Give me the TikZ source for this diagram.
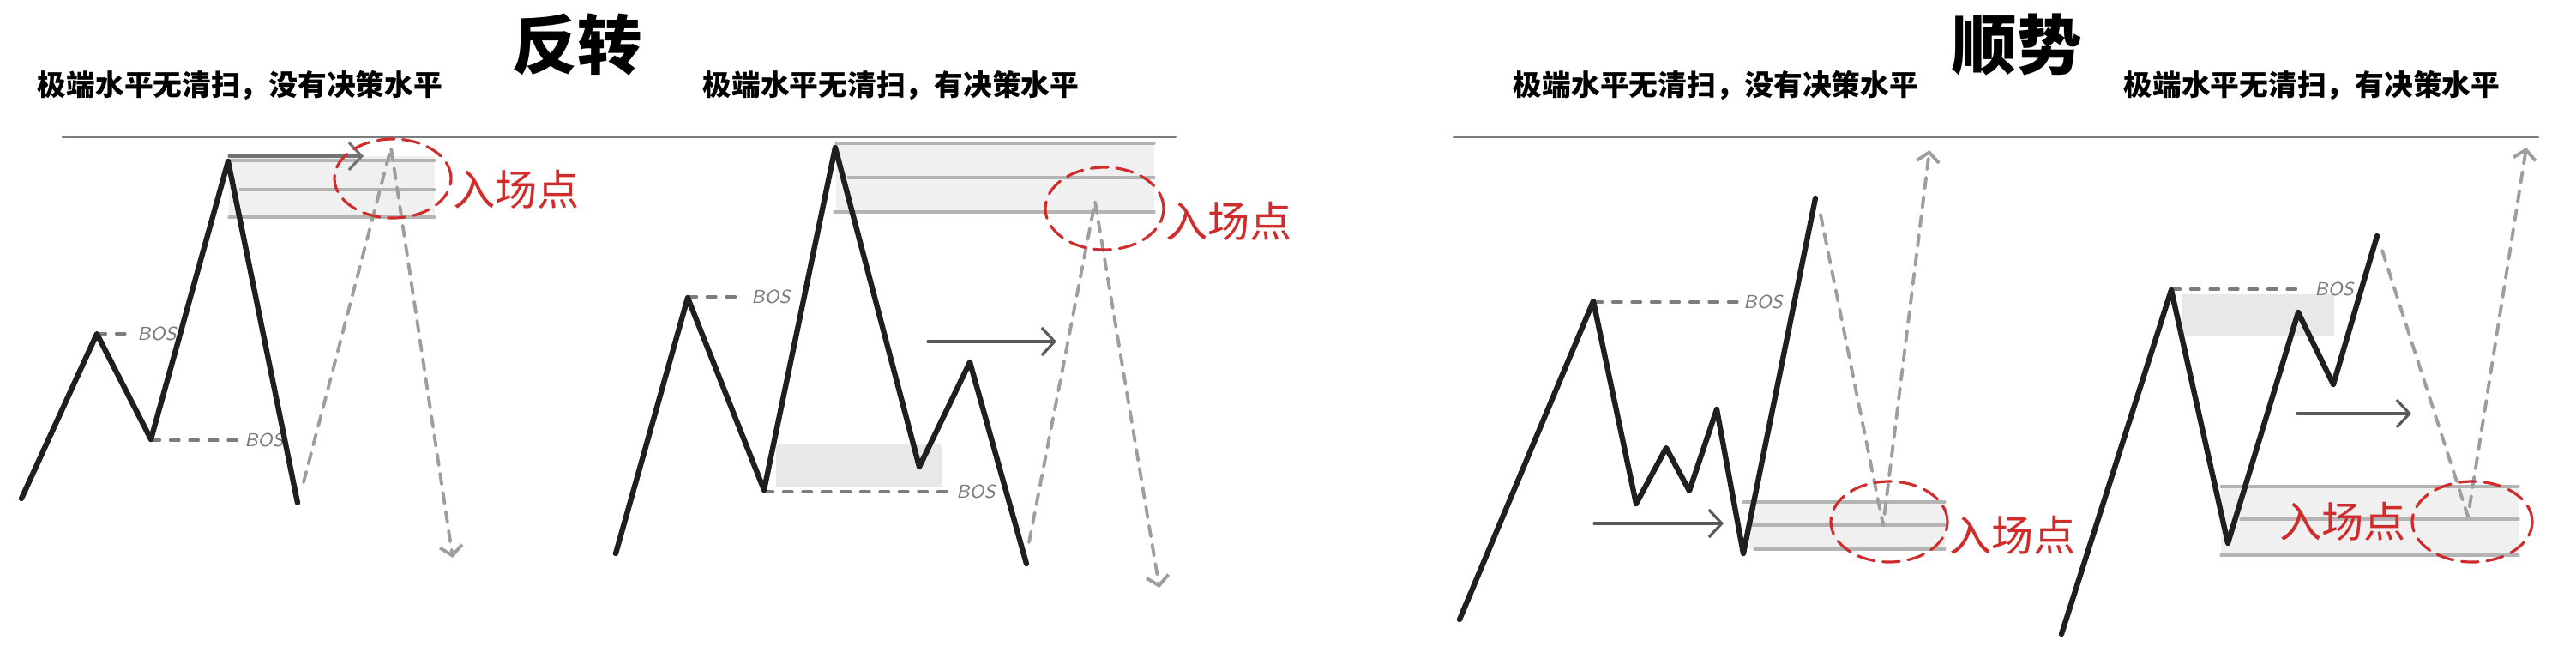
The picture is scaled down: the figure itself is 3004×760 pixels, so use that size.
\documentclass[tikz,border=0pt]{standalone}
\usepackage{fontspec}
\usetikzlibrary{arrows.meta, positioning, shapes.geometric}
\newfontfamily\cjk{Noto Sans CJK SC}
\definecolor{cred}{HTML}{D02C2C}
\definecolor{czone}{HTML}{F0F0F0}
\definecolor{cbox}{HTML}{E8E8E8}
\definecolor{clevel}{HTML}{B4B4B4}
\definecolor{cproj}{HTML}{9E9E9E}
\definecolor{cgrey}{HTML}{7C7C7C}
\tikzset{
  every picture/.style={line join=round, line cap=round},
  price/.style={draw=black!88, line width=1.8pt},
  proj/.style={draw=cproj, line width=1.1pt, dash pattern=on 3.6pt off 2.8pt, -{Straight Barb[length=1.1mm, width=2.6mm]}},
  bosline/.style={draw=cgrey, line width=0.9pt, dash pattern=on 3pt off 3.4pt},
  bos/.style={font=\sffamily\itshape\fontsize{6.2}{7}\selectfont, text=cgrey, inner sep=0pt},
  level/.style={draw=clevel, line width=0.9pt},
  hint/.style={draw=black!65, line width=0.9pt, -{Straight Barb[length=1.5mm, width=3.2mm]}},
  entry/.style={ellipse, draw=cred, line width=0.9pt, dash pattern=on 5.6pt off 2.8pt, inner sep=0pt},
  entrytext/.style={font=\cjk\fontsize{14}{16}\selectfont, text=cred, inner sep=0pt},
  title/.style={font=\cjk\bfseries\fontsize{21.5}{24}\selectfont, inner sep=0pt},
  subtitle/.style={font=\cjk\bfseries\fontsize{9.6}{11}\selectfont, inner sep=0pt},
}

\begin{document}
\begin{tikzpicture}[x=0.1mm, y=-0.1mm]
  \useasboundingbox[fill=white] (0,0) rectangle (3004,760);
  % headings, pixel grid of the 3004x760 sheet
  \node[title] (trev) at (673,52) {反转};
  \node[title] (ttrend) at (2352,52) {顺势};
  \node[subtitle] (sa) at (280,100) {极端水平无清扫，没有决策水平};
  \node[subtitle] (sb) at (1039,100) {极端水平无清扫，有决策水平};
  \node[subtitle] (sc) at (2001,100) {极端水平无清扫，没有决策水平};
  \node[subtitle] (sd) at (2696,100) {极端水平无清扫，有决策水平};
  \draw[cgrey, line width=0.7pt] (73,160) -- (1371,160);
  \draw[cgrey, line width=0.7pt] (1695,160) -- (2960,160);

  % reversal, no decision level
  \fill[czone] (267,182) rectangle (507,253);
  \draw[level] (267,187) -- (507,187) (280,221) -- (507,221) (267,253) -- (507,253);
  \draw[hint, draw=black!55] (267,182) -- (424,182);
  \draw[bosline] (113,389) -- (150,389);
  \node[bos] (bosa1) at (183,389) {BOS};
  \draw[bosline] (176,513) -- (279,513);
  \node[bos] (bosa2) at (308,513) {BOS};
  \draw[proj] (354,562) -- (456,172) -- (528,650);
  \draw[price] (25,581) -- (113,389) -- (176,512) -- (266,188) -- (347,586);
  \node[entry, minimum width=13.6mm, minimum height=9.2mm] (ea) at (458,208) {};
  \node[entrytext, right=0pt of ea, yshift=-1.3mm] (la) {入场点};

  % reversal, with decision level
  \fill[czone] (975,167) rectangle (1346,247);
  \fill[cbox] (905,517) rectangle (1098,567);
  \draw[level] (975,167) -- (1346,167) (989,207) -- (1346,207) (973,247) -- (1346,247);
  \draw[bosline] (802,346) -- (866,346);
  \node[bos] (bosb1) at (899,346) {BOS};
  \draw[bosline] (891,573) -- (1108,573);
  \node[bos] (bosb2) at (1138,573) {BOS};
  \draw[hint] (1082,398) -- (1232,398);
  \draw[proj] (1200,632) -- (1277,235) -- (1352,685);
  \draw[price] (718,645) -- (802,347) -- (891,571) -- (974,172) -- (1072,544) -- (1131,422) -- (1197,657);
  \node[entry, minimum width=13.8mm, minimum height=9.6mm] (eb) at (1288,243) {};
  \node[entrytext, right=0pt of eb, yshift=-1.5mm] (lb) {入场点};

  % trend, no decision level
  \fill[czone] (2040,585) rectangle (2268,640);
  \draw[level] (2033,585) -- (2268,585) (2040,612) -- (2268,612) (2046,640) -- (2268,640);
  \draw[bosline] (1858,352) -- (2030,352);
  \node[bos] (bosc) at (2056,352) {BOS};
  \draw[hint] (1859,610) -- (2010,610);
  \draw[proj] (2123,250) -- (2196,612) -- (2250,175);
  \draw[price] (1702,722) -- (1858,351) -- (1908,587) -- (1943,522) -- (1970,572) -- (2002,477) -- (2033,645) -- (2117,231);
  \node[entry, minimum width=13.6mm, minimum height=9.4mm] (ec) at (2203,608) {};
  \node[entrytext, right=0pt of ec, yshift=-1.6mm] (lc) {入场点};

  % trend, with decision level
  \fill[czone] (2590,567) rectangle (2937,647);
  \fill[cbox] (2545,343) rectangle (2722,392);
  \draw[level] (2590,567) -- (2937,567) (2613,605) -- (2937,605) (2590,647) -- (2937,647);
  \draw[bosline] (2532,337) -- (2684,337);
  \node[bos] (bosd) at (2722,337) {BOS};
  \draw[hint] (2679,482) -- (2812,482);
  \draw[proj] (2778,292) -- (2878,602) -- (2946,172);
  \draw[price] (2404,739) -- (2532,338) -- (2598,633) -- (2680,364) -- (2721,448) -- (2772,275);
  \node[entry, minimum width=14mm, minimum height=9.4mm] (ed) at (2883,608) {};
  \node[entrytext, left=0.5mm of ed] (ld) {入场点};
\end{tikzpicture}
\end{document}
